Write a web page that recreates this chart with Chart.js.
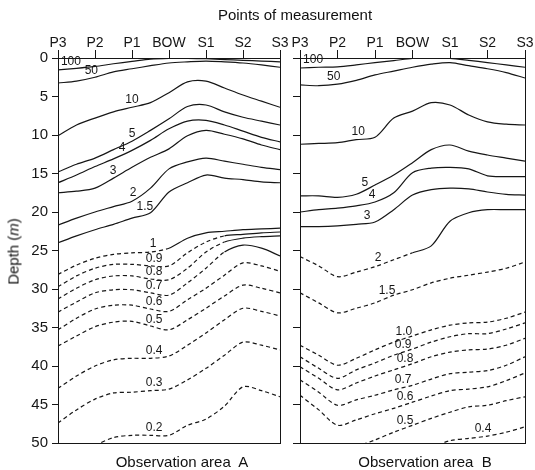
<!DOCTYPE html>
<html><head><meta charset="utf-8">
<script src="https://cdn.jsdelivr.net/npm/chart.js@4/dist/chart.umd.min.js"></script>
<style>
html,body{margin:0;padding:0;background:#fff;}
body{width:535px;height:470px;position:relative;overflow:hidden;font-family:"Liberation Sans",Arial,sans-serif;color:#111;}
#ca{position:absolute;left:0;top:0;}
#cb{position:absolute;left:290px;top:0;}
.t{position:absolute;font-size:15px;line-height:17px;white-space:pre;text-align:center;color:#111;}
</style></head><body>
<canvas id="ca" width="290" height="470"></canvas>
<canvas id="cb" width="245" height="470"></canvas>
<div class="t" style="left:195px;top:6px;width:200px;">Points of measurement</div>
<div class="t" style="left:92px;top:453px;width:180px;">Observation area  A</div>
<div class="t" style="left:335px;top:453px;width:180px;">Observation area  B</div>
<div class="t" style="left:-37px;top:243px;width:100px;transform:rotate(-90deg);">Depth (<i>m</i>)</div>
<script>
// ---- categories / tick labels ----
const pointNames = ['P3', 'P2', 'P1', 'BOW', 'S1', 'S2', 'S3'];
const xGrid = [0, 0.5, 1, 1.5, 2, 2.5, 3, 3.5, 4, 4.5, 5, 5.5, 6];

// ---- Observation area A: depth (m) of each contour along xGrid ----
const aLevels = ['100', '50', '10', '5', '4', '3', '2', '1.5', '1', '0.9', '0.8', '0.7', '0.6', '0.5', '0.4', '0.3', '0.2'];
const a100 = [1.55, 1.35, 1.1, 0.75, 0.45, 0.15, 0.05, 0.05, 0.1, 0.2, 0.3, 0.4, 0.5];
const a50  = [3.25, 3.0, 2.5, 1.8, 1.4, 1.0, 0.65, 0.5, 0.4, 0.5, 0.65, 0.9, 1.2];
const a10  = [10.1, 8.7, 7.8, 7.0, 6.4, 5.8, 4.5, 3.1, 3.0, 3.9, 4.8, 5.6, 6.4];
const a5   = [14.8, 13.8, 13.0, 11.9, 10.8, 9.4, 7.9, 6.3, 6.1, 7.0, 7.7, 8.2, 8.7];
const a4   = [16.2, 15.2, 14.1, 13.1, 12.0, 10.7, 9.2, 8.2, 8.1, 8.7, 9.5, 10.3, 10.9];
const a3   = [17.5, 17.3, 16.9, 15.6, 14.2, 12.9, 11.8, 10.1, 9.4, 9.9, 10.5, 11.3, 11.9];
const a2   = [21.7, 20.8, 20.0, 19.3, 18.6, 16.9, 14.4, 13.5, 13.0, 13.4, 13.8, 14.2, 14.5];
const a15  = [24.0, 23.1, 22.3, 21.6, 20.8, 20.1, 17.4, 16.2, 15.2, 15.6, 15.8, 16.1, 16.2];
const a1   = [28.1, 26.9, 26.0, 25.5, 25.3, 25.2, 24.7, 23.4, 22.7, 22.5, 22.3, 22.2, 22.1];
const a09  = [29.7, 28.3, 27.3, 26.8, 26.8, 27.0, 27.0, 25.3, 23.9, 23.1, 22.9, 22.7, 22.6];
const a08  = [31.3, 29.9, 28.8, 28.3, 28.3, 28.7, 28.8, 27.3, 25.2, 23.9, 23.4, 23.2, 23.1];
const a07  = [33.0, 31.7, 30.5, 30.1, 30.1, 30.5, 30.8, 29.2, 27.3, 25.2, 24.3, 24.7, 25.7];
const a06  = [35.3, 33.8, 32.6, 32.1, 32.1, 32.6, 32.9, 31.4, 29.9, 28.2, 26.6, 27.0, 27.7];
const a05  = [37.4, 36.1, 34.9, 34.3, 34.2, 34.8, 35.3, 34.0, 32.5, 30.9, 29.5, 29.9, 30.5];
const a04  = [42.9, 41.3, 40.0, 39.2, 39.0, 39.0, 38.7, 37.3, 35.7, 34.0, 32.5, 32.9, 33.5];
const a03  = [47.4, 45.7, 44.3, 43.5, 43.4, 43.2, 43.0, 41.8, 40.3, 38.6, 36.9, 37.3, 37.9];
const a02  = [null, null, 50.3, 49.3, 49.0, 49.0, 49.0, 47.7, 46.9, 45.2, 42.7, 43.2, 44.0];
const aSeries = [a100, a50, a10, a5, a4, a3, a2, a15, a1, a09, a08, a07, a06, a05, a04, a03, a02];
const aLabelAt = [0.35, 0.9, 2.0, 2.0, 1.73, 1.49, 2.03, 2.35, 2.57, 2.6, 2.6, 2.6, 2.6, 2.6, 2.6, 2.6, 2.6];
const aSolidFrom = [0, 0, 0, 0, 0, 0, 0, 0, 2.75, 4.25, 4.5, 4.25, 99, 99, 99, 99, 99];

// ---- Observation area B ----
const bLevels = ['100', '50', '10', '5', '4', '3', '2', '1.5', '1.0', '0.9', '0.8', '0.7', '0.6', '0.5', '0.4'];
const b100 = [1.3, 1.2, 1.15, 0.9, 0.6, 0.35, 0.05, 0.05, 0.05, 0.3, 0.6, 0.9, 1.2];
const b50  = [3.5, 3.6, 3.4, 2.9, 2.2, 1.7, 1.2, 0.8, 0.6, 1.0, 1.4, 1.9, 2.6];
const b10  = [11.2, 11.1, 11.0, 10.6, 10.3, 7.8, 6.9, 5.8, 6.1, 7.4, 8.3, 8.6, 8.7];
const b5   = [17.9, 17.9, 18.1, 17.7, 16.5, 15.2, 13.6, 11.9, 11.3, 12.1, 12.6, 13.0, 13.4];
const b4   = [20.0, 19.7, 19.5, 19.2, 18.7, 17.5, 14.9, 14.3, 14.2, 14.4, 15.3, 15.4, 15.4];
const b3   = [21.9, 21.9, 21.8, 21.6, 21.3, 19.7, 17.8, 17.1, 16.9, 17.0, 17.4, 17.7, 17.8];
const b2   = [25.8, 27.0, 28.4, 27.8, 27.1, 26.2, 25.3, 24.4, 21.2, 20.1, 19.7, 19.7, 19.7];
const b15  = [30.5, 31.8, 33.1, 32.5, 31.8, 30.8, 30.1, 29.2, 28.6, 28.2, 27.8, 27.3, 26.5];
const b1   = [37.3, 38.6, 39.9, 39.0, 37.9, 36.9, 36.1, 35.3, 34.7, 34.4, 34.3, 33.8, 33.0];
const b09  = [38.8, 40.3, 41.6, 40.5, 39.6, 38.6, 37.8, 36.9, 36.2, 35.8, 35.8, 35.2, 34.4];
const b08  = [40.1, 41.6, 43.1, 42.2, 41.3, 40.5, 39.7, 38.8, 38.2, 37.9, 37.8, 37.3, 36.4];
const b07  = [41.8, 43.4, 45.1, 44.4, 43.8, 43.1, 42.5, 41.7, 41.0, 40.8, 40.6, 39.9, 38.8];
const b06  = [43.8, 45.7, 47.7, 47.0, 46.2, 45.5, 44.7, 43.9, 43.2, 43.0, 42.7, 41.9, 40.9];
const b05  = [null, null, null, 50.5, 49.6, 48.6, 47.7, 46.8, 46.0, 45.3, 45.1, 44.5, 44.0];
const b04  = [null, null, null, null, null, null, null, 50.6, 49.7, 49.4, 49.1, 48.6, 47.9];
const bSeries = [b100, b50, b10, b5, b4, b3, b2, b15, b1, b09, b08, b07, b06, b05, b04];
const bLabelAt = [0.35, 0.9, 1.55, 1.73, 1.92, 1.79, 2.08, 2.32, 2.77, 2.75, 2.8, 2.75, 2.8, 2.8, 4.88];
const bSolidFrom = [0, 0, 0, 0, 0, 0, 3.0, 99, 99, 99, 99, 99, 99, 99, 99];

const INK = '#161616';
const FONT = '"Liberation Sans", Arial, sans-serif';

function interpAt(pts, x) {
  for (let i = 0; i < pts.length - 1; i++) {
    const p = pts[i], q = pts[i + 1];
    if (p.y == null || q.y == null) continue;
    if (x >= p.x && x <= q.x) return p.y + (q.y - p.y) * (x - p.x) / (q.x - p.x);
  }
  return null;
}

const contourLabels = {
  id: 'contourLabels',
  afterDatasetsDraw(chart) {
    const {ctx, scales} = chart;
    ctx.save();
    ctx.font = '12px ' + FONT;
    ctx.fillStyle = INK;
    ctx.textAlign = 'center';
    ctx.textBaseline = 'bottom';
    chart.data.datasets.forEach(ds => {
      const d = interpAt(ds.data, ds.labelAt);
      if (d == null) return;
      ctx.fillText(ds.label, scales.x.getPixelForValue(ds.labelAt), scales.y.getPixelForValue(d) - 1.5);
    });
    ctx.restore();
  }
};

function makeChart(id, levels, series, labelAt, solidFrom, leftW, rightW, showY, yTickLen) {
  const datasets = levels.map((lv, i) => {
    const sf = solidFrom[i];
    return {
      label: lv,
      labelAt: labelAt[i],
      data: xGrid.map((x, j) => ({x: x, y: series[i][j]})),
      borderColor: INK,
      borderWidth: 1.2,
      pointRadius: 0,
      tension: 0.3,
      spanGaps: false,
      fill: false,
      xAxisID: 'x',
      yAxisID: 'y',
      segment: { borderDash: c => (c.p0.parsed.x < sf ? [4, 3] : []) }
    };
  });
  return new Chart(document.getElementById(id), {
    type: 'line',
    data: { datasets },
    options: {
      responsive: false,
      animation: false,
      parsing: false,
      layout: { padding: 0 },
      plugins: { legend: { display: false }, tooltip: { enabled: false }, title: { display: false } },
      scales: {
        x: {
          type: 'linear', position: 'top', min: 0, max: 6,
          ticks: { stepSize: 1, autoSkip: false, maxRotation: 0, padding: -2, color: INK,
                   font: { size: 14, family: FONT }, callback: v => pointNames[v] ?? '' },
          grid: { drawOnChartArea: false, tickLength: 8, color: INK, lineWidth: 1 },
          border: { color: INK, width: 1 },
          afterFit: s => { s.height = 58; }
        },
        x2: {
          type: 'linear', position: 'bottom', min: 0, max: 1,
          ticks: { display: false }, grid: { display: false, drawTicks: false },
          border: { color: INK, width: 1 },
          afterFit: s => { s.height = 27; }
        },
        y: {
          type: 'linear', position: 'left', reverse: true, min: 0, max: 50,
          ticks: { stepSize: 5, display: showY, padding: 4, color: INK, font: { size: 15, family: FONT } },
          grid: { drawOnChartArea: false, tickLength: yTickLen, color: INK, lineWidth: 1 },
          border: { color: INK, width: 1 },
          afterFit: s => { s.width = leftW; }
        },
        y2: {
          type: 'linear', position: 'right', min: 0, max: 1,
          ticks: { display: false }, grid: { display: false, drawTicks: false },
          border: { color: INK, width: 1 },
          afterFit: s => { s.width = rightW; }
        }
      }
    },
    plugins: [contourLabels]
  });
}

makeChart('ca', aLevels, aSeries, aLabelAt, aSolidFrom, 58, 10, true, 6);
makeChart('cb', bLevels, bSeries, bLabelAt, bSolidFrom, 10, 10, false, 7);
</script>
</body></html>
